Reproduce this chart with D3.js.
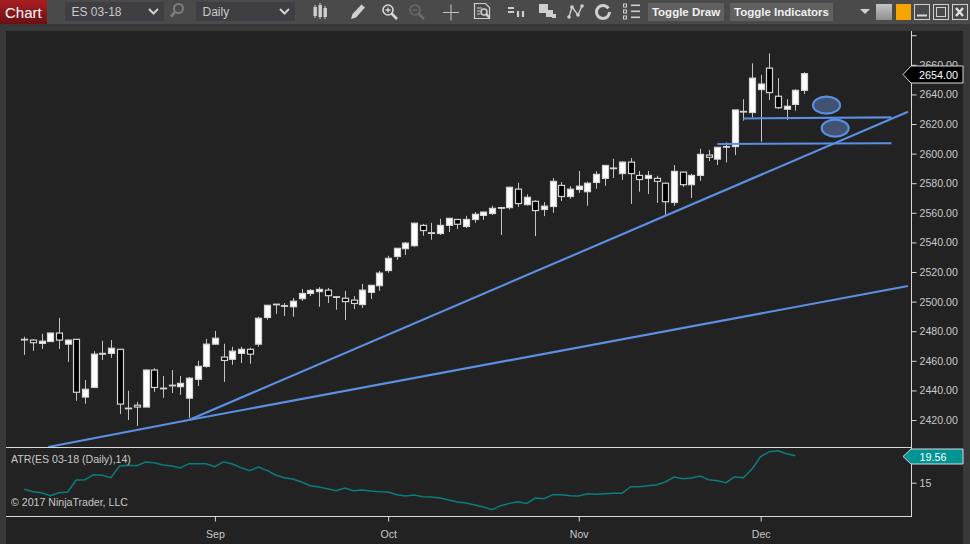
<!DOCTYPE html>
<html>
<head>
<meta charset="utf-8">
<script src="https://cdnjs.cloudflare.com/ajax/libs/d3/7.8.5/d3.min.js"></script>
<style>
html, body { margin: 0; padding: 0; background: #4a4a4a; overflow: hidden; }
svg { display: block; }
text { font-family: "Liberation Sans", Arial, sans-serif; }
</style>
</head>
<body>
<svg id="chart" width="970" height="544"></svg>
<script>
// Daily bars, one entry per session
var opens = [2474.5,2474,2471.75,2473,2478.75,2471.25,2474.5,2435.5,2442,2464.5,2465,2467.75,2428,2430,2428.75,2453.75,2441.5,2443.5,2442.5,2434.75,2447.5,2456.25,2471.25,2462.5,2461,2465,2467.75,2471.25,2489.25,2498.25,2497.25,2496.5,2502,2505.5,2506.75,2507.75,2503.25,2502.25,2501,2498,2506.25,2510.75,2521,2530.5,2535.75,2537.75,2551.5,2546.5,2546,2551.5,2555.5,2550.75,2555.5,2558.25,2559.5,2563.5,2563.5,2576,2565.5,2567.75,2562.25,2564.25,2578.5,2571,2575.75,2574.25,2580.5,2583.25,2590.25,2586.5,2594.25,2585.25,2583.25,2583.25,2580,2567,2587.5,2579,2585.25,2599,2596.25,2604.75,2604.75,2628.5,2627.75,2643.25,2657.75,2638.75,2630,2633.25,2642.75];
var highs = [2476.25,2474.75,2478.25,2479,2489,2474.5,2474.5,2447,2466.5,2473.5,2474,2467.75,2439.75,2432.25,2454.25,2455,2449.75,2453.75,2449.75,2449,2460,2474.75,2480.25,2471.5,2469.5,2469.5,2468.75,2489.75,2497.75,2498.25,2499,2502.5,2508.5,2508.5,2509.75,2509.25,2503.5,2507.25,2503.75,2512,2511,2520.75,2531,2536,2540.25,2553,2552.5,2553.25,2556,2556.25,2555.5,2558,2560.5,2560.75,2564.75,2563.75,2577.5,2580.25,2572.5,2568.5,2567.25,2583.5,2580.75,2578,2588.25,2581,2588,2592.25,2596.5,2594.75,2597,2588.25,2588.25,2585,2580.25,2592.25,2587.75,2586.25,2603.25,2602.5,2604.25,2607.5,2629.5,2636.75,2661,2653.25,2667.75,2651,2636.75,2643.5,2655];
var lows = [2464,2466.75,2468,2472.75,2468,2459.25,2433,2431,2442,2460.5,2462,2424,2420,2416,2428.75,2439,2435,2438.25,2437,2421.5,2443,2455.25,2471,2445.75,2457.25,2458.5,2458,2469.5,2487.75,2491.75,2490.25,2489.75,2500.5,2503.75,2496.5,2499,2494.5,2487.5,2495,2495.75,2501.75,2507.25,2519.5,2528.25,2531.5,2537,2544.5,2541.75,2545,2547,2549,2549.75,2553.25,2555.25,2558.5,2545,2562.25,2564,2565,2544.25,2557.75,2560,2568,2569.5,2573.5,2564.75,2576.25,2578.25,2583.5,2582.25,2566,2574.25,2572.75,2566.75,2557.75,2564.75,2577.5,2570,2581.5,2595,2592.25,2594,2599,2622.25,2624.5,2608,2636.25,2630.25,2622.75,2629,2640.25];
var closes = [2474.5,2472.25,2473.25,2478.75,2474,2474,2438.75,2440.75,2464.5,2465,2468.5,2430.75,2428,2428.75,2453.75,2442,2441.5,2443.5,2444.75,2448.25,2456.25,2471.25,2475.25,2460.25,2466.5,2467.75,2464.5,2488.75,2497.5,2498.25,2497.25,2500.25,2505.5,2507.5,2508.25,2504,2503.25,2500,2498.75,2507.75,2511,2519.25,2529.25,2536,2539.5,2553,2548,2546.5,2551.5,2556.25,2552.25,2555.5,2559,2560.5,2563,2563.5,2577.25,2566.25,2570.5,2561.5,2564.5,2581.25,2571,2576,2578,2580,2586,2592,2590.25,2594.25,2586.5,2582.5,2585.25,2581.25,2567.5,2588,2579,2585.25,2599.5,2597.5,2604.25,2604.75,2629.5,2628.5,2651,2647,2641.25,2631,2632,2642.75,2654];

// ATR(14) values
var atrValues = [13.88,13.48,13.31,12.81,13.31,13.43,15.45,15.51,16.35,16.24,15.85,17.82,17.93,17.87,18.49,18.38,17.99,17.82,17.48,18.21,18.21,18.21,17.7,18.55,18.16,17.54,17.03,17.65,17.09,16.3,15.85,15.62,15.12,14.5,14.27,13.99,13.65,14.1,13.65,13.76,13.6,13.48,13.43,12.98,12.75,12.92,12.64,12.58,12.41,12.07,11.74,11.57,11.23,10.89,10.44,11.12,11.51,11.79,11.51,12.41,12.3,12.98,12.98,12.81,12.75,13.14,13.03,13.14,13.2,13.2,14.33,14.33,14.5,14.66,15.12,15.96,15.68,15.79,16.13,15.51,15.34,15,16.02,15.85,17.31,19.4,20.24,20.41,19.9,19.56];

// axes
var priceTicks = [2420,2440,2460,2480,2500,2520,2540,2560,2580,2600,2620,2640,2660];
var hiddenTick = [2680];
var atrTicks = [15];
var monthBars = [22,42,64,85];
var monthLabels = ["Sep","Oct","Nov","Dec"];
var lastPrice = 2654;
var lastAtr = 19.56;

// drawing objects, [bar, price]
var trendLines = [
	[[19,2420],[102,2628.25]],
	[[2.75,2401.75],[19,2420]],
	[[19,2420],[102,2510.5]],
	[[83,2623.75],[100.1,2624.5]],
	[[80,2606.5],[100.1,2607]]
];
var ellipses = [
	{bar: 92.6, price: 2632.75},
	{bar: 93.6, price: 2617.25}
];

var svg = d3.select("#chart");
var textCol = "#c9c9c9", lineCol = "#d8d8d8", blue = "#5b8fe3";
var smallFont = 10.6;

// window frame
svg.append("rect").attr("width",970).attr("height",544).attr("fill","#4a4a4a");
svg.append("rect").attr("x",0).attr("y",24).attr("width",970).attr("height",520).attr("fill","#383838");
svg.append("rect").attr("x",6).attr("y",31).attr("width",957).attr("height",513).attr("fill","#222222");

var x = d3.scaleLinear().domain([0,90]).range([24.3,804]);
var y = d3.scaleLinear().domain([2420,2600]).range([420,153.6]);
var yAtr = d3.scaleLinear().domain([15,19.56]).range([482.7,455.7]);

var defs = svg.append("defs");
defs.append("clipPath").attr("id","price").append("rect").attr("x",6).attr("y",31).attr("width",905).attr("height",416);
var grad = defs.append("linearGradient").attr("id","red").attr("x1",0).attr("x2",0).attr("y1",0).attr("y2",1);
grad.append("stop").attr("offset",0).attr("stop-color","#a81e22");
grad.append("stop").attr("offset",1).attr("stop-color","#6b1015");
var grey = defs.append("linearGradient").attr("id","grey").attr("x1",0).attr("x2",0).attr("y1",0).attr("y2",1);
grey.append("stop").attr("offset",0).attr("stop-color","#c4c4c4");
grey.append("stop").attr("offset",1).attr("stop-color","#8f8f8f");

// candles
var g = svg.append("g").attr("clip-path","url(#price)");
var bars = d3.range(opens.length);
g.selectAll("line.wick").data(bars).enter().append("line")
	.attr("class","wick")
	.attr("x1",function(i){return Math.round(x(i))+0.5;})
	.attr("x2",function(i){return Math.round(x(i))+0.5;})
	.attr("y1",function(i){return y(highs[i]);})
	.attr("y2",function(i){return y(lows[i]);})
	.attr("stroke","#c4c4c4").attr("stroke-width",1);
g.selectAll("rect.body").data(bars).enter().append("rect")
	.attr("class","body")
	.attr("x",function(i){return Math.round(x(i))-2.5;})
	.attr("width",6)
	.attr("y",function(i){return y(Math.max(opens[i],closes[i]));})
	// a doji still has to show as a flat bar
	.attr("height",function(i){return Math.max(Math.abs(y(opens[i])-y(closes[i])),0.6);})
	.attr("fill",function(i){return closes[i]<opens[i] ? "#000000" : "#ffffff";})
	.attr("stroke","#d4d4d4").attr("stroke-width",1.2);

// hand drawn lines and ellipses on the chart
g.selectAll("line.trend").data(trendLines).enter().append("line")
	.attr("class","trend")
	.attr("x1",function(d){return x(d[0][0]);})
	.attr("y1",function(d){return y(d[0][1]);})
	.attr("x2",function(d){return x(d[1][0]);})
	.attr("y2",function(d){return y(d[1][1]);})
	.attr("stroke",blue).attr("stroke-width",2.1);
g.selectAll("ellipse").data(ellipses).enter().append("ellipse")
	.attr("cx",function(d){return x(d.bar);})
	.attr("cy",function(d){return y(d.price);})
	.attr("rx",13.5).attr("ry",8.5)
	.attr("fill","#415273").attr("stroke",blue).attr("stroke-width",2.2);

// ATR panel
svg.append("path").datum(atrValues)
	.attr("d",d3.line().x(function(d,i){return x(i);}).y(function(d){return yAtr(d);}))
	.attr("fill","none").attr("stroke","#0b7c7c").attr("stroke-width",1.5);
svg.append("text").attr("x",11).attr("y",463).attr("font-size",smallFont).attr("fill",textCol).text("ATR(ES 03-18 (Daily),14)");
svg.append("text").attr("x",11).attr("y",506).attr("font-size",smallFont).attr("fill",textCol).text("\u00a9 2017 NinjaTrader, LLC");

// panel borders
svg.append("line").attr("x1",6).attr("x2",911).attr("y1",447.5).attr("y2",447.5).attr("stroke",lineCol);
svg.append("line").attr("x1",6).attr("x2",911).attr("y1",516.5).attr("y2",516.5).attr("stroke",lineCol);
svg.append("line").attr("x1",911.5).attr("x2",911.5).attr("y1",31).attr("y2",517).attr("stroke",lineCol);

// axes
function styleAxis(a) {
	a.select(".domain").remove();
	a.selectAll("line").attr("stroke",lineCol);
	a.selectAll("text").attr("fill",textCol).attr("font-size",smallFont)
		.attr("font-family","'Liberation Sans', Arial, sans-serif");
}
svg.append("g").attr("transform","translate(911.5,0)")
	.call(d3.axisRight(y).tickValues(priceTicks).tickSize(5).tickPadding(3).tickFormat(d3.format(".2f")))
	.call(styleAxis);
svg.append("g").attr("transform","translate(911.5,0)")
	.call(d3.axisRight(y).tickValues(hiddenTick).tickSize(5).tickFormat(""))
	.call(styleAxis);
svg.append("g").attr("transform","translate(911.5,0)")
	.call(d3.axisRight(yAtr).tickValues(atrTicks).tickSize(5).tickPadding(3).tickFormat(d3.format("d")))
	.call(styleAxis);
svg.append("g").attr("transform","translate(0,516.5)")
	.call(d3.axisBottom(x).tickValues(monthBars).tickSize(5).tickPadding(9)
		.tickFormat(function(d,i){return monthLabels[i];}))
	.call(styleAxis);

// value flags on the right axis
function flag(cy, fill, stroke, label, tx, anchor, h) {
	var t = cy-h/2, b = cy+h/2;
	svg.append("path").attr("d","M903,"+cy+"L911,"+t+"H963V"+b+"H911Z")
		.attr("fill",fill).attr("stroke",stroke).attr("stroke-width",1);
	svg.append("text").attr("x",tx).attr("y",cy+4).attr("text-anchor",anchor)
		.attr("font-size",10.8).attr("fill","#ffffff").text(label);
}
flag(Math.round(y(lastPrice))+0.5,"#000000","#d8d8d8",d3.format(".2f")(lastPrice),919,"start",17);
flag(Math.round(yAtr(lastAtr))+0.5,"#009494","#d8d8d8",d3.format(".2f")(lastAtr),933,"middle",15);

// toolbar
var bar = svg.append("g");
bar.append("rect").attr("x",0).attr("y",0).attr("width",47).attr("height",24).attr("fill","url(#red)");
bar.append("text").attr("x",5).attr("y",17.5).attr("font-size",15).attr("fill","#ffffff").text("Chart");

function combo(x0, label) {
	bar.append("rect").attr("x",x0).attr("y",2).attr("width",99).attr("height",19).attr("fill","#3e3e43");
	bar.append("text").attr("x",x0+6.5).attr("y",16).attr("font-size",12).attr("fill",textCol).text(label);
	bar.append("path").attr("d","M"+(x0+84)+",9l4.5,4.5l4.5,-4.5").attr("fill","none").attr("stroke","#d0d0d0").attr("stroke-width",2);
}
combo(65,"ES 03-18");
combo(196,"Daily");

function lens(cx, cy, col, sign, r) {
	bar.append("circle").attr("cx",cx).attr("cy",cy).attr("r",r).attr("fill","none").attr("stroke",col).attr("stroke-width",1.6);
	bar.append("line").attr("x1",cx+r*0.7).attr("y1",cy+r*0.7).attr("x2",cx+r*1.8).attr("y2",cy+r*1.8).attr("stroke",col).attr("stroke-width",2.6);
	if (sign) {
		bar.append("path").attr("d","M"+(cx-2.5)+","+cy+"h5"+(sign=="+"?"M"+cx+","+(cy-2.5)+"v5":"")).attr("stroke",col).attr("stroke-width",1.3);
	}
}
lens(388,10,"#d6d6d6","+",5);
lens(415,10,"#6b6b6b","-",5);
// the search glass leans the other way
bar.append("circle").attr("cx",178.5).attr("cy",8.5).attr("r",4.5).attr("fill","none").attr("stroke","#7d7d7d").attr("stroke-width",2);
bar.append("line").attr("x1",175).attr("y1",12).attr("x2",171).attr("y2",16.5).attr("stroke","#7d7d7d").attr("stroke-width",2.8);

var ic = "#cfcfcf";
// candle icon
[[315,7,9],[320,5,12],[325,8,9]].forEach(function(d){
	bar.append("rect").attr("x",d[0]-1.5).attr("y",d[1]).attr("width",3.4).attr("height",d[2]).attr("fill",ic);
	bar.append("line").attr("x1",d[0]).attr("x2",d[0]).attr("y1",d[1]-2).attr("y2",d[1]+d[2]+2).attr("stroke",ic);
});
// pencil
bar.append("path").attr("d","M351,19l1.5,-5l9,-9.5l3.5,3l-9,10z").attr("fill","#d0d0d0");
// crosshair
bar.append("path").attr("d","M443,12.5h16M451,4.5v16").attr("stroke","#c4c4c4").attr("fill","none");
// document
bar.append("path").attr("d","M474.5,3.5h11l4,4v11h-15z").attr("fill","none").attr("stroke",ic).attr("stroke-width",1.2);
bar.append("path").attr("d","M477,8h5M477,11h3M477,14h3").attr("stroke",ic);
lens(484,12,ic,"",3);
// bars
bar.append("path").attr("d","M508,8h6M508,12h6").attr("stroke",ic).attr("stroke-width",2);
bar.append("path").attr("d","M518,11v6M523,11v6").attr("stroke",ic).attr("stroke-width",2.2);
// squares
[[539,4,9],[546,10,7],[552,14,4]].forEach(function(d){
	bar.append("rect").attr("x",d[0]).attr("y",d[1]).attr("width",d[2]).attr("height",d[2]).attr("fill",ic);
});
// connected nodes
bar.append("path").attr("d","M569,17L572,7L578,15L582,6").attr("fill","none").attr("stroke",ic).attr("stroke-width",1.4);
[[569,17],[572,7],[578,15],[582,6]].forEach(function(d){
	bar.append("circle").attr("cx",d[0]).attr("cy",d[1]).attr("r",1.8).attr("fill",ic);
});
// refresh
bar.append("circle").attr("cx",603).attr("cy",12).attr("r",6.5).attr("fill","none").attr("stroke",ic).attr("stroke-width",3)
	.attr("stroke-dasharray","36 5");
// list
[4,10,16].forEach(function(t){
	bar.append("rect").attr("x",623.5).attr("y",t).attr("width",3).attr("height",3).attr("fill","none").attr("stroke",ic);
	bar.append("rect").attr("x",631).attr("y",t+0.5).attr("width",9).attr("height",1.6).attr("fill",ic);
});

function button(x0, w, label) {
	bar.append("rect").attr("x",x0).attr("y",3).attr("width",w).attr("height",18).attr("fill","#606060");
	bar.append("text").attr("x",x0+w/2).attr("y",16).attr("text-anchor","middle").attr("font-size",11.5)
		.attr("font-weight","bold").attr("fill","#f0f0f0").text(label);
}
button(648,76,"Toggle Draw");
button(730,103,"Toggle Indicators");

bar.append("path").attr("d","M860,9h10l-5,5z").attr("fill","#d0d0d0");
bar.append("rect").attr("x",876).attr("y",4).attr("width",16).attr("height",16).attr("fill","url(#grey)");
bar.append("rect").attr("x",896).attr("y",4).attr("width",15).attr("height",16).attr("fill","#f5a400");
[914.5,933.5,952.5].forEach(function(bx){
	bar.append("rect").attr("x",bx).attr("y",4.5).attr("width",15).attr("height",15).attr("fill","none").attr("stroke","#cfcfcf");
});
bar.append("path").attr("d","M917,15.5h10").attr("stroke","#d8d8d8").attr("stroke-width",2);
bar.append("rect").attr("x",936.5).attr("y",7.5).attr("width",9).attr("height",9).attr("fill","none").attr("stroke","#cfcfcf");
bar.append("path").attr("d","M956,8l7,8M963,8l-7,8").attr("stroke","#e0e0e0").attr("stroke-width",2.4);
</script>
</body>
</html>
